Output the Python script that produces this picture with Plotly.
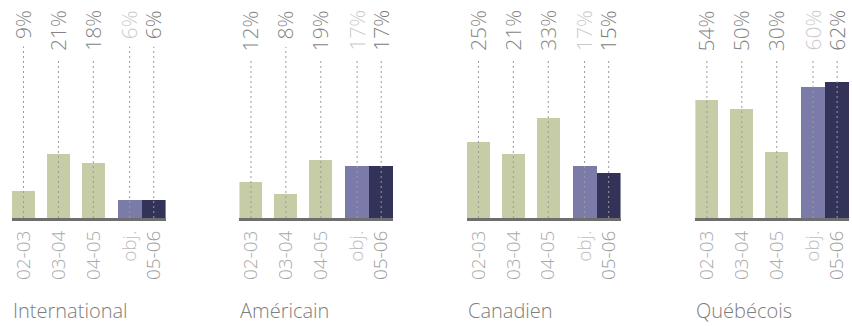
import plotly.graph_objects as go

# ---- data ----
regions = ["International", "Américain", "Canadien", "Québécois"]
periods = ["02-03", "03-04", "04-05", "obj.", "05-06"]
values_international = [9, 21, 18, 6, 6]
values_americain = [12, 8, 19, 17, 17]
values_canadien = [25, 21, 33, 17, 15]
values_quebecois = [54, 50, 30, 60, 62]
all_values = [values_international, values_americain, values_canadien, values_quebecois]

# ---- layout / style ----
W, H = 852, 326
panel_left = [10, 238, 466, 695]
panel_w = 154
baseline_px = 218
top_px = 8
y_max = [69.3, 69.3, 69.3, 96.0]

slot_pos = [0, 1, 2, 3.04, 3.73]
slot_width = [0.66, 0.66, 0.66, 0.69, 0.69]
x_range = [-0.33, 4.07]

bar_colors = ["#c6cca6", "#c6cca6", "#c6cca6", "#7b7ba9", "#33335a"]
val_colors = ["#858585", "#858585", "#858585", "#cacaca", "#7a7a7a"]
tick_colors = ["#a9a9a9", "#a9a9a9", "#a9a9a9", "#bdbdbd", "#9a9a9a"]
FONT = "Open Sans"

fig = go.Figure()
y_bottom = (H - baseline_px) / H
y_top = (H - top_px) / H

mask_annotations = []
text_annotations = []

for k, (name, vals) in enumerate(zip(regions, all_values)):
    xa = "x" if k == 0 else f"x{k+1}"
    ya = "y" if k == 0 else f"y{k+1}"
    fig.add_trace(go.Bar(
        x=slot_pos, y=vals, width=slot_width,
        marker=dict(color=bar_colors, line=dict(width=0)),
        xaxis=xa, yaxis=ya, showlegend=False, hoverinfo="skip",
    ))
    x0 = panel_left[k] / W
    x1 = (panel_left[k] + panel_w) / W
    ticktext = [f'<span style="color:{c}">{p}</span>' for p, c in zip(periods, tick_colors)]
    fig.layout[f"xaxis{'' if k == 0 else k+1}"] = dict(
        domain=[x0, x1], range=x_range, anchor=ya,
        showgrid=False, zeroline=False,
        showline=True, linewidth=3, linecolor="#6e6e6e",
        tickmode="array", tickvals=slot_pos, ticktext=ticktext,
        tickangle=-90, ticks="", ticklabelstandoff=2,
        tickfont=dict(family=FONT, size=19, color="#a9a9a9", weight=300),
        fixedrange=True,
    )
    fig.layout[f"yaxis{'' if k == 0 else k+1}"] = dict(
        domain=[y_bottom, y_top], range=[0, y_max[k]], anchor=xa,
        showgrid=False, zeroline=False, showline=False, showticklabels=False,
        fixedrange=True,
    )
    for i, v in enumerate(vals):
        fig.add_shape(type="line", xref=xa, yref=ya,
                      x0=slot_pos[i], x1=slot_pos[i], y0=0, y1=y_max[k],
                      line=dict(color="#9a9a9a", width=1, dash="2px,3px"),
                      layer="above")
        common = dict(
            x=slot_pos[i], xref=xa, y=1, yref=f"{ya} domain",
            text=f"{v}%", textangle=-90, showarrow=False,
            xanchor="center", yanchor="top",
        )
        # white mask hiding the dotted guide behind the label
        mask_annotations.append(dict(
            common, bgcolor="white", borderpad=0,
            height=24, width=None,
            font=dict(family=FONT, size=21, color="white", weight=300),
        ))
        text_annotations.append(dict(
            common,
            font=dict(family=FONT, size=21, color=val_colors[i], weight=300),
        ))
    text_annotations.append(dict(
        x=x0 - 1 / W, xref="paper", y=(H - 295) / H, yref="paper",
        text=name, showarrow=False, xanchor="left", yanchor="top",
        font=dict(family=FONT, size=20, color="#7d7d7d", weight=300),
    ))

for a in mask_annotations:
    a.pop("width", None)
    a.pop("height", None)
    a["borderpad"] = 4
    fig.add_annotation(**a)
for a in text_annotations:
    fig.add_annotation(**a)

fig.update_layout(
    width=W, height=H, margin=dict(l=0, r=0, t=0, b=0),
    paper_bgcolor="white", plot_bgcolor="white",
    bargap=0,
)
fig.write_html("out.html")
